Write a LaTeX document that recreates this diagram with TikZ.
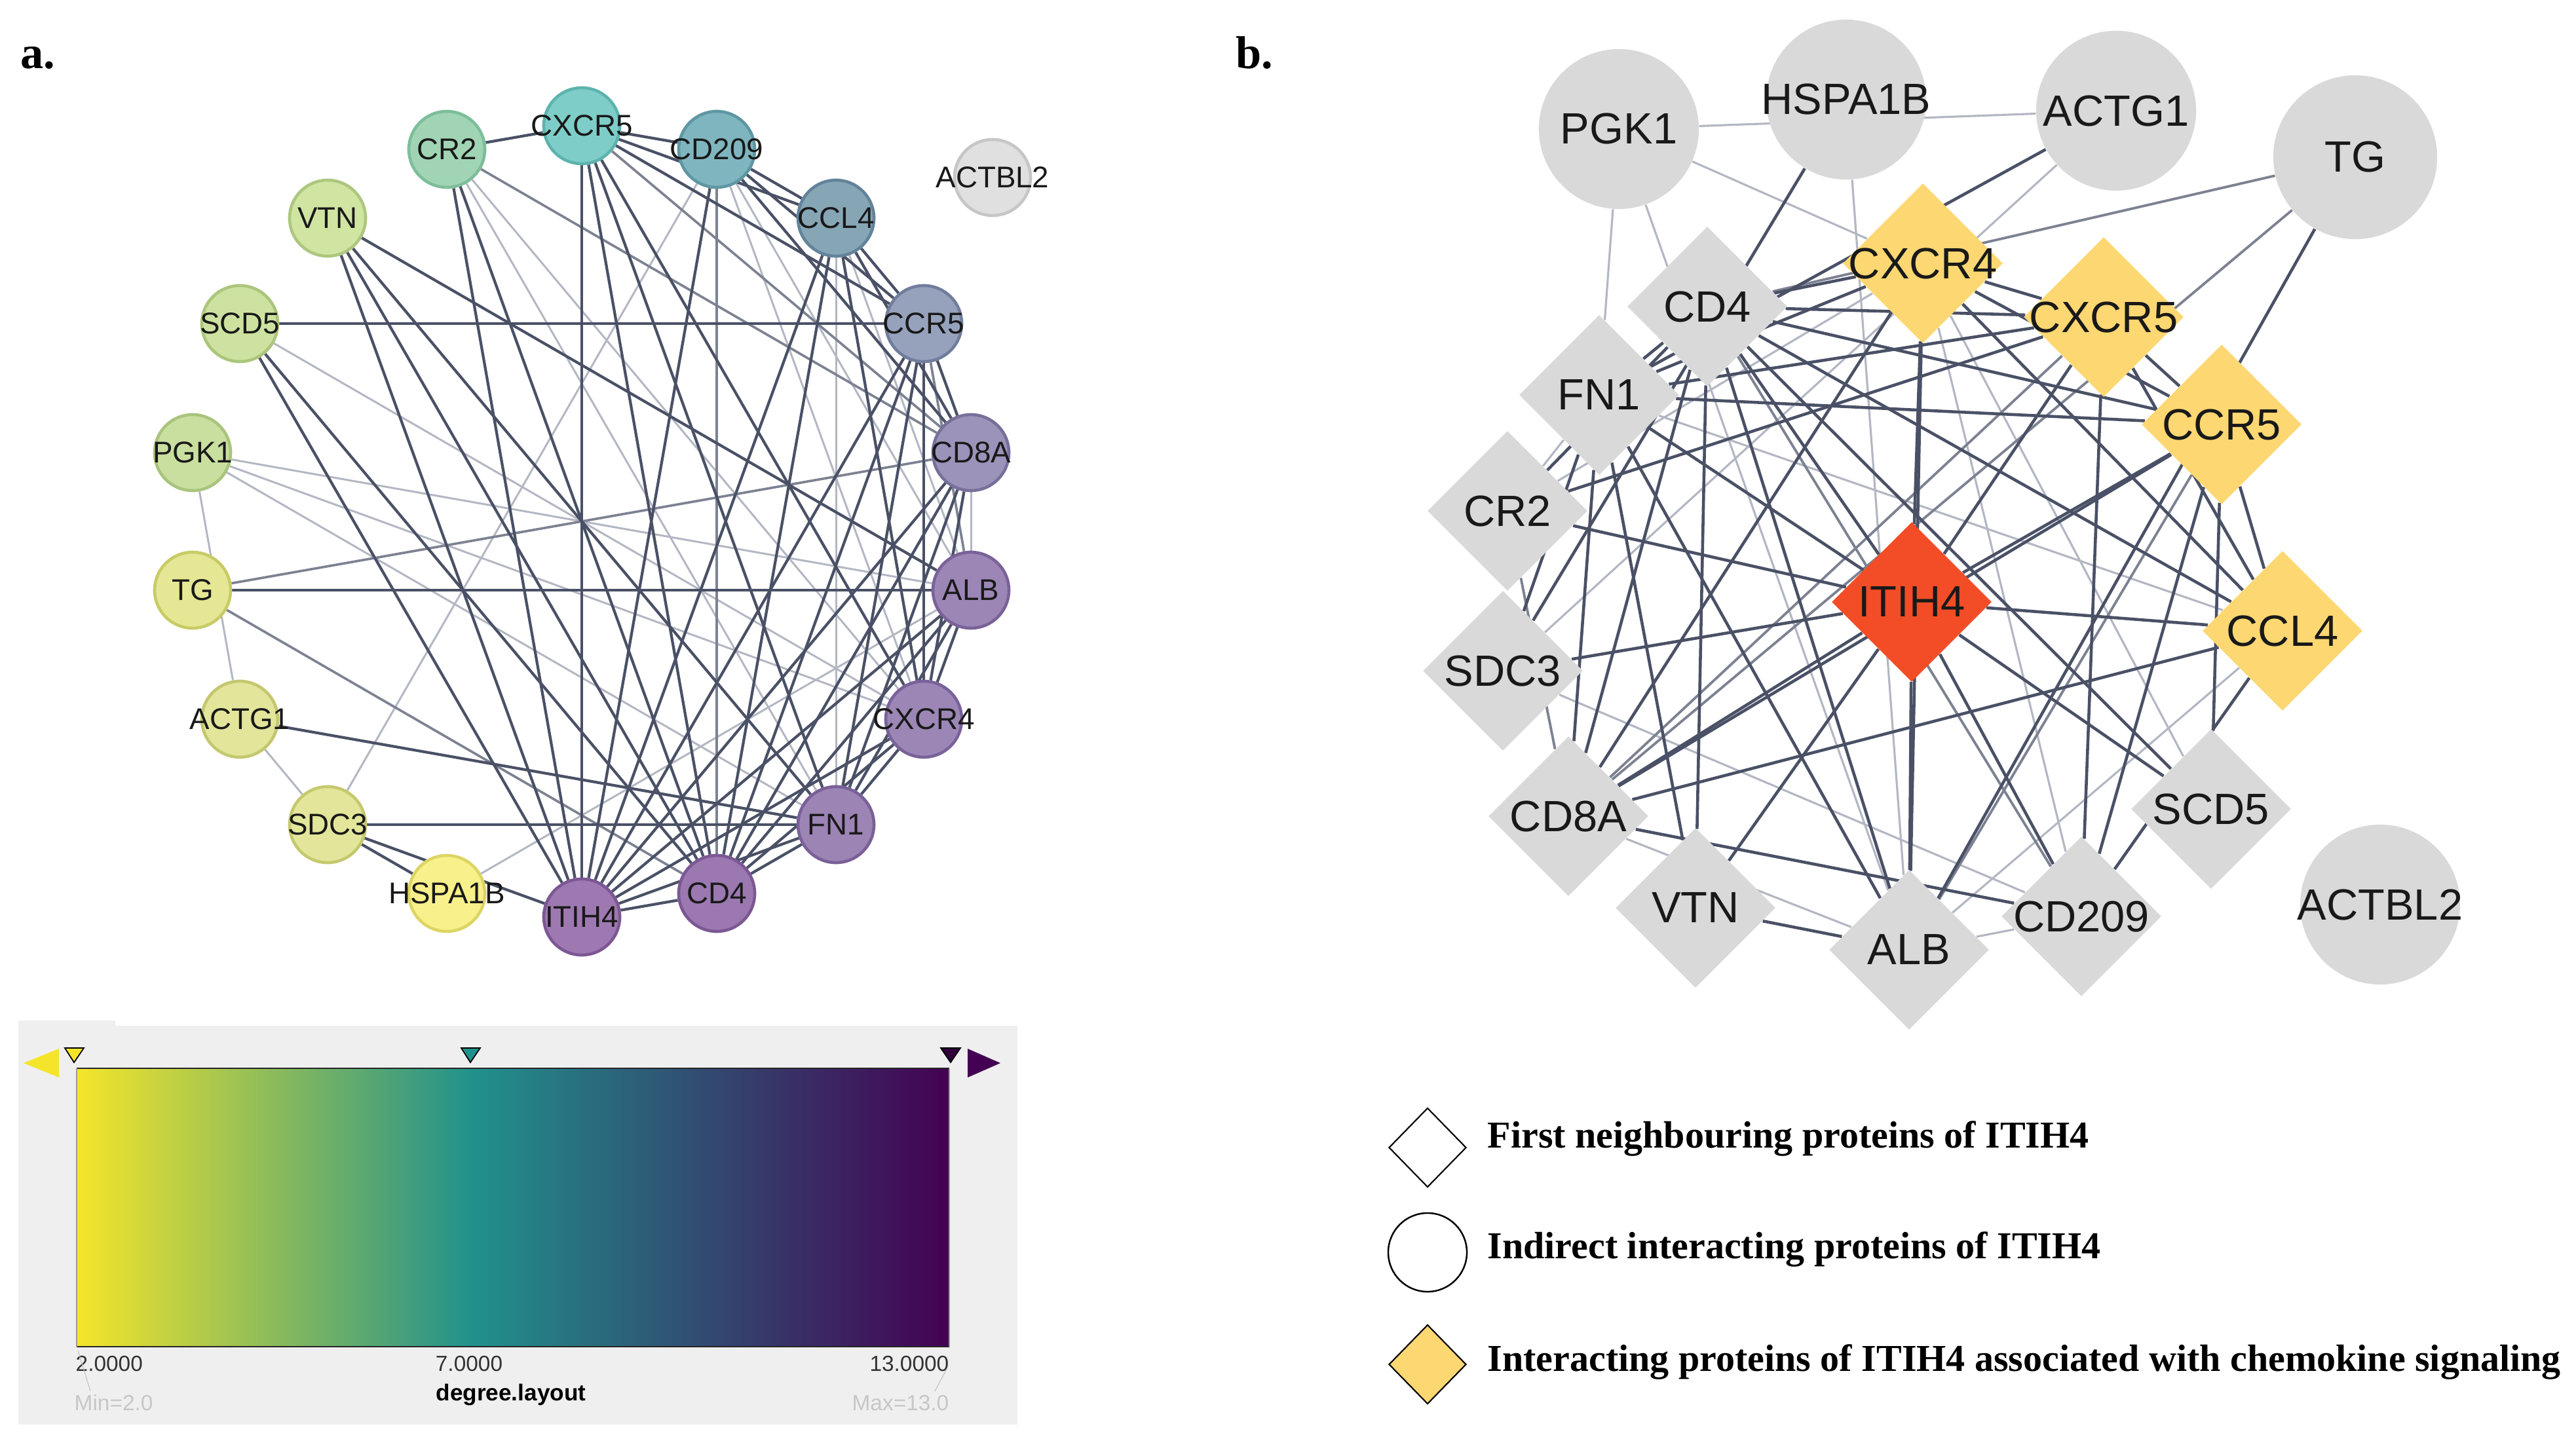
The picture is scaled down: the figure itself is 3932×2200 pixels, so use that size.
\documentclass[tikz,border=0pt]{standalone}
\usepackage{fontspec}
\setmainfont{Liberation Serif}
\setsansfont{Liberation Sans}
\usetikzlibrary{shapes.geometric,backgrounds}
% panel a colours
\definecolor{fCXCR5}{HTML}{7ECDC8}\definecolor{dCXCR5}{HTML}{5DB3AE}
\definecolor{fCR2}{HTML}{A0D4B4}\definecolor{dCR2}{HTML}{7DBE9A}
\definecolor{fVTN}{HTML}{D0E5A2}\definecolor{dVTN}{HTML}{ADC77E}
\definecolor{fSCD5}{HTML}{CDE2A0}\definecolor{dSCD5}{HTML}{ABC67C}
\definecolor{fPGK1}{HTML}{C9DFA0}\definecolor{dPGK1}{HTML}{A9C47C}
\definecolor{fTG}{HTML}{E5E794}\definecolor{dTG}{HTML}{C8CB66}
\definecolor{fACTG1}{HTML}{E2E59A}\definecolor{dACTG1}{HTML}{C4C76E}
\definecolor{fSDC3}{HTML}{E3E69A}\definecolor{dSDC3}{HTML}{C5C96E}
\definecolor{fHSPA1B}{HTML}{F8F08A}\definecolor{dHSPA1B}{HTML}{DCD564}
\definecolor{fITIH4}{HTML}{9E79B1}\definecolor{dITIH4}{HTML}{7C5794}
\definecolor{fCD4}{HTML}{9B78B0}\definecolor{dCD4}{HTML}{7B5893}
\definecolor{fFN1}{HTML}{9C84B5}\definecolor{dFN1}{HTML}{7A6098}
\definecolor{fCXCR4}{HTML}{9B86B5}\definecolor{dCXCR4}{HTML}{79629A}
\definecolor{fALB}{HTML}{9C86B6}\definecolor{dALB}{HTML}{7A6298}
\definecolor{fCD8A}{HTML}{9B93B9}\definecolor{dCD8A}{HTML}{77709A}
\definecolor{fCCR5}{HTML}{96A2BC}\definecolor{dCCR5}{HTML}{717D9C}
\definecolor{fCCL4}{HTML}{86A6B6}\definecolor{dCCL4}{HTML}{62839A}
\definecolor{fCD209}{HTML}{7FB5BF}\definecolor{dCD209}{HTML}{5E97A3}
\definecolor{fACTBL2}{HTML}{E0E0E0}\definecolor{dACTBL2}{HTML}{C6C6C6}
% edges
\definecolor{edark}{HTML}{4A5166}
\definecolor{emid}{HTML}{7D8292}
\definecolor{elight}{HTML}{B3B7C3}
% panel b colours
\definecolor{bgray}{HTML}{D9D9D9}
\definecolor{byel}{HTML}{FDD772}
\definecolor{bred}{HTML}{F24D26}
% colour bar
\definecolor{vyel}{HTML}{F5E52A}
\definecolor{vteal}{HTML}{21918C}
\definecolor{vpurp}{HTML}{440154}
\definecolor{barbg}{HTML}{EFEFEF}
\begin{document}
\begin{tikzpicture}[x=0.01cm,y=-0.01cm,
  anode/.style 2 args={circle, minimum size=1.16cm, inner sep=0pt, fill=#1, draw=#2, line width=1.3pt},
  alab/.style={font=\fontsize{13}{15}\selectfont\sffamily, text=black!90, inner sep=0pt},
  bcirc/.style={circle, minimum size=2.44cm, inner sep=0pt, fill=bgray, draw=none},
  bdia/.style={diamond, aspect=1, minimum width=2.44cm, minimum height=2.44cm, inner sep=0pt, fill=#1, draw=none},
  blab/.style={font=\fontsize{19}{22}\selectfont\sffamily, text=black!90, inner sep=0pt},
  ead/.style={draw=edark, line width=1.2pt},
  eam/.style={draw=emid, line width=1.05pt},
  eal/.style={draw=elight, line width=0.85pt},
  ebd/.style={draw=edark, line width=1.3pt},
  ebm/.style={draw=emid, line width=1.1pt},
  ebl/.style={draw=elight, line width=0.9pt},
  legtxt/.style={font=\fontsize{16.5}{19}\selectfont\bfseries, anchor=base west, inner sep=0pt},
  bartxt/.style={font=\fontsize{9.5}{11}\selectfont\sffamily, inner sep=0pt}
]
\useasboundingbox (0,0) rectangle (3932,2200);

% panel labels
\node[font=\fontsize{20}{24}\selectfont\bfseries, anchor=base west, inner sep=0pt] (labA) at (31,105) {a.};
\node[font=\fontsize{20}{24}\selectfont\bfseries, anchor=base west, inner sep=0pt] (labB) at (1886,105) {b.};

% ---------- panel a nodes ----------
\node[anode={fCXCR5}{dCXCR5}, label={[alab]center:CXCR5}] (aCXCR5) at (888,192) {};
\node[anode={fCR2}{dCR2}, label={[alab]center:CR2}] (aCR2) at (682,228) {};
\node[anode={fVTN}{dVTN}, label={[alab]center:VTN}] (aVTN) at (500,333) {};
\node[anode={fSCD5}{dSCD5}, label={[alab]center:SCD5}] (aSCD5) at (366,494) {};
\node[anode={fPGK1}{dPGK1}, label={[alab]center:PGK1}] (aPGK1) at (294,691) {};
\node[anode={fTG}{dTG}, label={[alab]center:TG}] (aTG) at (294,901) {};
\node[anode={fACTG1}{dACTG1}, label={[alab]center:ACTG1}] (aACTG1) at (366,1098) {};
\node[anode={fSDC3}{dSDC3}, label={[alab]center:SDC3}] (aSDC3) at (500,1259) {};
\node[anode={fHSPA1B}{dHSPA1B}, label={[alab]center:HSPA1B}] (aHSPA1B) at (682,1364) {};
\node[anode={fITIH4}{dITIH4}, label={[alab]center:ITIH4}] (aITIH4) at (888,1400) {};
\node[anode={fCD4}{dCD4}, label={[alab]center:CD4}] (aCD4) at (1094,1364) {};
\node[anode={fFN1}{dFN1}, label={[alab]center:FN1}] (aFN1) at (1276,1259) {};
\node[anode={fCXCR4}{dCXCR4}, label={[alab]center:CXCR4}] (aCXCR4) at (1410,1098) {};
\node[anode={fALB}{dALB}, label={[alab]center:ALB}] (aALB) at (1482,901) {};
\node[anode={fCD8A}{dCD8A}, label={[alab]center:CD8A}] (aCD8A) at (1482,691) {};
\node[anode={fCCR5}{dCCR5}, label={[alab]center:CCR5}] (aCCR5) at (1410,494) {};
\node[anode={fCCL4}{dCCL4}, label={[alab]center:CCL4}] (aCCL4) at (1276,333) {};
\node[anode={fCD209}{dCD209}, label={[alab]center:CD209}] (aCD209) at (1094,228) {};
\node[anode={fACTBL2}{dACTBL2}, label={[alab]center:ACTBL2}] (aACTBL2) at (1515,271) {};

% ---------- panel b nodes ----------
\node[bcirc, label={[blab]center:PGK1}] (bPGK1) at (2471,197) {};
\node[bcirc, label={[blab]center:HSPA1B}] (bHSPA1B) at (2818,152) {};
\node[bcirc, label={[blab]center:ACTG1}] (bACTG1) at (3230,169) {};
\node[bcirc, minimum size=2.5cm, label={[blab]center:TG}] (bTG) at (3595,240) {};
\node[bcirc, label={[blab]center:ACTBL2}] (bACTBL2) at (3633,1381) {};
\node[bdia=byel, label={[blab]center:CXCR4}] (bCXCR4) at (2935,402) {};
\node[bdia=byel, label={[blab]center:CXCR5}] (bCXCR5) at (3211,484) {};
\node[bdia=byel, label={[blab]center:CCR5}] (bCCR5) at (3391,648) {};
\node[bdia=byel, label={[blab]center:CCL4}] (bCCL4) at (3484,963) {};
\node[bdia=bred, label={[blab]center:ITIH4}] (bITIH4) at (2918,919) {};
\node[bdia=bgray, label={[blab]center:CD4}] (bCD4) at (2606,468) {};
\node[bdia=bgray, label={[blab]center:FN1}] (bFN1) at (2441,603) {};
\node[bdia=bgray, label={[blab]center:CR2}] (bCR2) at (2301,780) {};
\node[bdia=bgray, label={[blab]center:SDC3}] (bSDC3) at (2294,1024) {};
\node[bdia=bgray, label={[blab]center:CD8A}] (bCD8A) at (2394,1246) {};
\node[bdia=bgray, label={[blab]center:VTN}] (bVTN) at (2588,1386) {};
\node[bdia=bgray, label={[blab]center:ALB}] (bALB) at (2914,1450) {};
\node[bdia=bgray, label={[blab]center:CD209}] (bCD209) at (3177,1399) {};
\node[bdia=bgray, label={[blab]center:SCD5}] (bSCD5) at (3375,1235) {};

% ---------- edges (both panels) ----------
\def\darkedges{CR2/CXCR5, CR2/ITIH4, CR2/CD4,
 VTN/ITIH4, VTN/CD4, VTN/FN1, VTN/ALB,
 SCD5/CCR5, SCD5/ITIH4, SCD5/CD4,
 TG/ALB, ACTG1/FN1,
 SDC3/HSPA1B, SDC3/ITIH4, SDC3/FN1,
 CXCR5/ITIH4, CXCR5/CD4, CXCR5/FN1, CXCR5/CD209, CXCR5/CCR5, CXCR5/CXCR4, CXCR5/CCL4,
 CD209/CCL4, CD209/CCR5, CD209/CD8A, CD209/ITIH4,
 CCL4/CCR5, CCL4/CD8A, CCL4/ITIH4, CCL4/CD4, CCL4/CXCR4,
 CCR5/CD8A, CCR5/ITIH4, CCR5/CD4, CCR5/FN1, CCR5/CXCR4,
 CD8A/ITIH4, CD8A/CD4, CD8A/FN1, CD8A/CXCR4,
 ALB/ITIH4, ALB/CD4, ALB/CXCR4, ALB/FN1,
 CXCR4/ITIH4, CXCR4/CD4, CXCR4/FN1,
 FN1/ITIH4, FN1/CD4, CD4/ITIH4}
\def\midedges{CR2/CD8A, TG/CD8A, TG/CD4, CXCR5/CD8A, CCR5/ALB, CD209/CD4}
\def\lightedges{CR2/CXCR4, CR2/FN1, SCD5/CXCR4, PGK1/ACTG1, PGK1/ALB, PGK1/FN1, PGK1/CXCR4,
 ACTG1/SDC3, SDC3/CD209, HSPA1B/ALB, CD209/CXCR4, CD209/ALB, CCL4/FN1, CCL4/ALB, CD8A/ALB}
\begin{pgfonlayer}{background}
\foreach \u/\v in \lightedges {\draw[eal] (a\u) -- (a\v); \draw[ebl] (b\u) -- (b\v);}
\foreach \u/\v in \midedges {\draw[eam] (a\u) -- (a\v); \draw[ebm] (b\u) -- (b\v);}
\foreach \u/\v in \darkedges {\draw[ead] (a\u) -- (a\v); \draw[ebd] (b\u) -- (b\v);}
\end{pgfonlayer}

% ---------- colour bar ----------
\fill[barbg] (28,1566) rectangle (1553,2175);
\fill[barbg] (28,1558) rectangle (176,1566);
\shade[left color=vyel, right color=vteal] (117,1631) rectangle (719,2056);
\shade[left color=vteal, right color=vpurp] (719,1631) rectangle (1449,2056);
\draw[black!85, line width=0.8pt] (117,1631) -- (1449,1631);
\draw[black!85, line width=0.8pt] (117,2056) -- (1449,2056);
\draw[black!40, line width=0.3pt] (117,1631) -- (117,2056);
\draw[black!40, line width=0.3pt] (1449,1631) -- (1449,2056);
% markers
\filldraw[fill=vyel, draw=black, line width=0.5pt] (99,1600) -- (128,1600) -- (113,1622) -- cycle;
\filldraw[fill=vteal, draw=black, line width=0.5pt] (704,1600) -- (733,1600) -- (718,1622) -- cycle;
\filldraw[fill=vpurp!70!black, draw=black, line width=0.5pt] (1436,1600) -- (1466,1600) -- (1451,1622) -- cycle;
\fill[vyel] (36,1623) -- (90,1601) -- (90,1645) -- cycle;
\fill[vpurp] (1527,1623) -- (1477,1601) -- (1477,1645) -- cycle;
% labels
\node[bartxt, text=black!80, anchor=west] (t2) at (115,2082) {2.0000};
\node[bartxt, text=black!80] (t7) at (716,2082) {7.0000};
\node[bartxt, text=black!80, anchor=east] (t13) at (1449,2082) {13.0000};
\node[bartxt, font=\fontsize{10}{12}\selectfont\sffamily\bfseries, text=black] (tdeg) at (780,2129) {degree.layout};
\node[bartxt, text=black!22, anchor=west] (tmin) at (113,2142) {Min=2.0};
\node[bartxt, text=black!22, anchor=east] (tmax) at (1449,2142) {Max=13.0};
\draw[black!25, line width=0.3pt] (119,2062) -- (138,2124);
\draw[black!25, line width=0.3pt] (1445,2090) -- (1427,2124);

% ---------- legend ----------
\node[diamond, aspect=1, minimum width=1.18cm, minimum height=1.21cm, inner sep=0pt, draw=black, line width=0.6pt, fill=white] (lgA) at (2179,1752) {};
\node[circle, minimum size=1.2cm, inner sep=0pt, draw=black, line width=0.7pt, fill=white] (lgB) at (2179,1912) {};
\node[diamond, aspect=1, minimum width=1.18cm, minimum height=1.21cm, inner sep=0pt, draw=black, line width=0.6pt, fill=byel] (lgC) at (2179,2083) {};
\node[legtxt] (lgtA) at (2270,1752) {First neighbouring proteins of ITIH4};
\node[legtxt] (lgtB) at (2270,1921) {Indirect interacting proteins of ITIH4};
\node[legtxt] (lgtC) at (2270,2093) {Interacting proteins of ITIH4 associated with chemokine signaling};
\end{tikzpicture}
\end{document}
